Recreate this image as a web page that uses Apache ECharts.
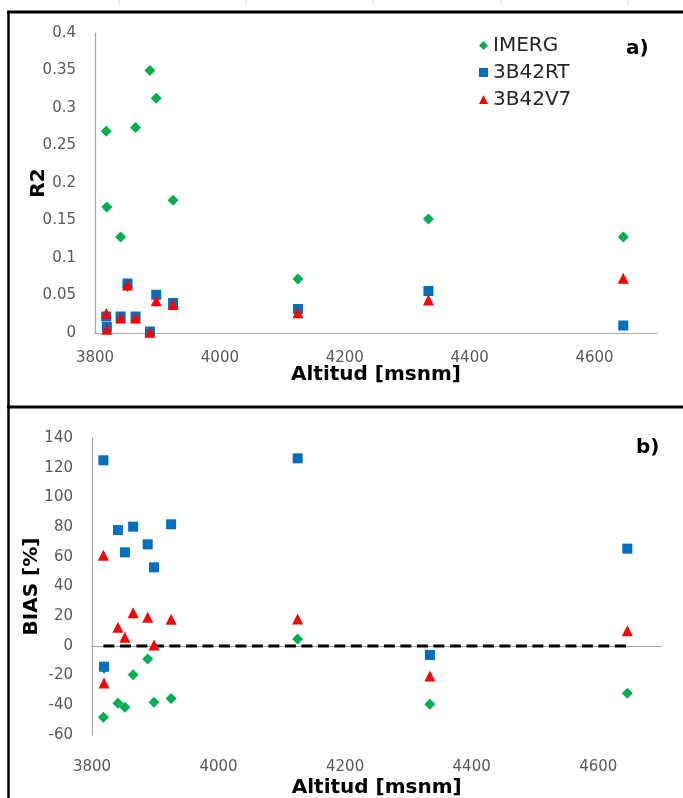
<!DOCTYPE html>
<html><head><meta charset="utf-8">
<script src="https://cdn.jsdelivr.net/npm/echarts@6/dist/echarts.min.js"></script>
<style>html,body{margin:0;padding:0;background:#fff}#c{width:683px;height:798px}</style>
</head><body><div id="c"></div>
<script>
// Station altitudes (msnm)
const altitude = [3818, 3819, 3841, 3852, 3865, 3888, 3898, 3925, 4125, 4334, 4646];
// Panel a) R2
const r2IMERG = [0.269, 0.168, 0.128, 0.062, 0.274, 0.350, 0.313, 0.177, 0.072, 0.152, 0.128];
const r2RT    = [0.022, 0.008, 0.022, 0.066, 0.022, 0.002, 0.051, 0.040, 0.032, 0.056, 0.010];
const r2V7    = [0.026, 0.005, 0.020, 0.064, 0.020, 0.001, 0.043, 0.038, 0.027, 0.044, 0.073];
// Panel b) BIAS [%]
const biasIMERG = [-48, -15, -38.7, -41.3, -19.4, -8.8, -38.0, -35.5, 4.6, -39.3, -31.9];
const biasRT    = [125, -14, 78, 63, 80.3, 68.4, 52.9, 81.9, 126.3, -6.1, 65.5];
const biasV7    = [61, -25, 12.5, 5.8, 22.4, 19.3, 0.6, 17.9, 18.1, -20.3, 10.2];
// Axis ticks
const xTicks = {min: 3800, max: 4700, interval: 200};
const r2Ticks = {min: 0, max: 0.4, interval: 0.05};
const biasTicks = {min: -60, max: 140, interval: 20};
const seriesNames = ['IMERG', '3B42RT', '3B42V7'];

const pair = (ys) => altitude.map((a, i) => [a, ys[i]]);
const zeroLine = [[Math.min(...altitude), 0], [Math.max(...altitude), 0]];

const tickFont = {fontFamily: 'DejaVu Sans', fontSize: 15, color: '#595959'};
const titleFont = {fontFamily: 'DejaVu Sans', fontSize: 20, fontWeight: 'bold', color: '#000'};
const axisLine = {show: true, lineStyle: {color: '#a6a6a6', width: 1.2}};

function xAx(grid, labelMargin, nameGap) {
  return {
    type: 'value', gridIndex: grid, min: xTicks.min, max: xTicks.max, interval: xTicks.interval,
    name: 'Altitud [msnm]', nameLocation: 'middle', nameGap: nameGap, nameMoveOverlap: false,
    nameTextStyle: titleFont,
    axisLine: axisLine, axisTick: {show: false}, splitLine: {show: false},
    axisLabel: Object.assign({margin: labelMargin, showMaxLabel: false, formatter: v => String(v)}, tickFont)
  };
}
function yAx(grid, t, name, nameGap) {
  return {
    type: 'value', gridIndex: grid, min: t.min, max: t.max, interval: t.interval,
    name: name, nameLocation: 'middle', nameGap: nameGap, nameRotate: 90, nameMoveOverlap: false,
    nameTextStyle: titleFont,
    axisLine: axisLine, axisTick: {show: false}, splitLine: {show: false},
    axisLabel: Object.assign({margin: 19}, tickFont)
  };
}
const styles = [
  {symbol: 'diamond', symbolSize: 11, color: '#00B050'},
  {symbol: 'rect', symbolSize: 10, color: '#0070C0'},
  {symbol: 'triangle', symbolSize: 11, color: '#FF0000'}
];
function sc(i, grid, data) {
  return {
    name: seriesNames[i], type: 'scatter', xAxisIndex: grid, yAxisIndex: grid,
    symbol: styles[i].symbol, symbolSize: styles[i].symbolSize,
    itemStyle: {color: styles[i].color, opacity: 1}, data: data, z: 2 + i, animation: false
  };
}

const chart = echarts.init(document.getElementById('c'), null, {renderer: 'canvas'});
const gray = '#e0e0e0';
chart.setOption({
  backgroundColor: '#fff',
  animation: false,
  grid: [
    {left: 95, top: 33, width: 562, height: 300, outerBoundsMode: 'none'},
    {left: 92, top: 438, width: 569.5, height: 297, outerBoundsMode: 'none'}
  ],
  xAxis: [xAx(0, 18, 32), xAx(1, 25, 43)],
  yAxis: [yAx(0, r2Ticks, 'R2', 46), yAx(1, biasTicks, 'BIAS [%]', 50)],
  legend: {
    data: seriesNames, orient: 'vertical', left: 474, top: 30,
    itemWidth: 9, itemHeight: 9, itemGap: 6,
    textStyle: {fontFamily: 'DejaVu Sans', fontSize: 20, color: '#262626', lineHeight: 21}
  },
  series: [
    sc(0, 0, pair(r2IMERG)), sc(1, 0, pair(r2RT)), sc(2, 0, pair(r2V7)),
    {type: 'line', xAxisIndex: 1, yAxisIndex: 1, data: zeroLine, symbol: 'none', z: 1,
     lineStyle: {color: '#000', width: 3, type: [11, 5.5]}, silent: true},
    sc(0, 1, pair(biasIMERG)), sc(1, 1, pair(biasRT)), sc(2, 1, pair(biasV7))
  ],
  graphic: [
    {type: 'text', left: 626, top: 39, style: {text: 'a)', font: 'bold 20px "DejaVu Sans"', fill: '#000'}},
    {type: 'text', left: 636, top: 438, style: {text: 'b)', font: 'bold 20px "DejaVu Sans"', fill: '#000'}},
    {type: 'line', shape: {x1: 7, y1: 12, x2: 683, y2: 12}, style: {stroke: '#000', lineWidth: 3}},
    {type: 'line', shape: {x1: 8.5, y1: 11, x2: 8.5, y2: 798}, style: {stroke: '#000', lineWidth: 2.5}},
    {type: 'line', shape: {x1: 7, y1: 407, x2: 683, y2: 407}, style: {stroke: '#000', lineWidth: 3}},
    {type: 'line', shape: {x1: 119, y1: 0, x2: 119, y2: 6}, style: {stroke: gray, lineWidth: 1}},
    {type: 'line', shape: {x1: 246, y1: 0, x2: 246, y2: 6}, style: {stroke: gray, lineWidth: 1}},
    {type: 'line', shape: {x1: 373, y1: 0, x2: 373, y2: 6}, style: {stroke: gray, lineWidth: 1}},
    {type: 'line', shape: {x1: 501, y1: 0, x2: 501, y2: 6}, style: {stroke: gray, lineWidth: 1}},
    {type: 'line', shape: {x1: 628, y1: 0, x2: 628, y2: 6}, style: {stroke: gray, lineWidth: 1}}
  ]
});
</script>
</body></html>
